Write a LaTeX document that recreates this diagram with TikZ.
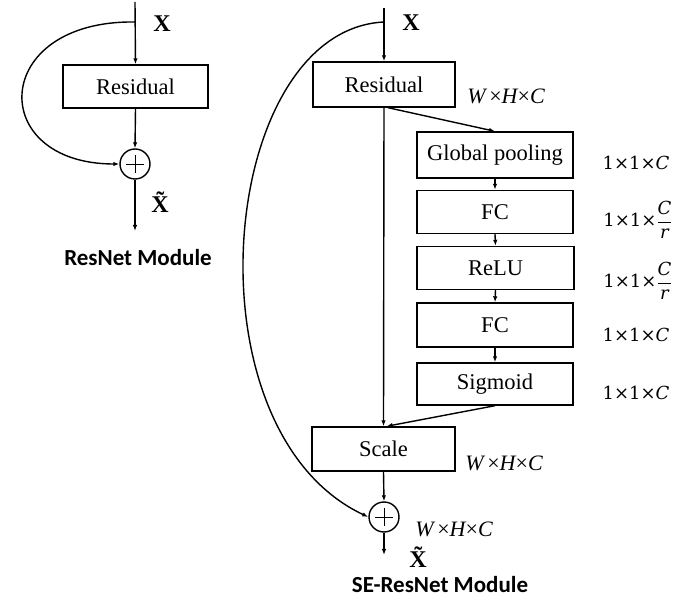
\documentclass[tikz,border=0pt]{standalone}
\usepackage{fontspec}
\setmainfont{Liberation Serif}
\newfontfamily\labfont{DejaVu Serif}
\newfontfamily\capfont{Carlito}
\usetikzlibrary{arrows.meta}
\begin{document}
\begin{tikzpicture}[x=1pt,y=-1pt,line width=1.4pt,
  >={Latex[length=6pt,width=4.5pt]},
  box/.style={draw,line width=1.4pt,inner sep=0pt,font=\fontsize{22.5}{26}\selectfont},
  addc/.style={draw,circle,line width=1.4pt,minimum size=30pt,inner sep=0pt},
  xlab/.style={font=\fontsize{24}{28}\selectfont\bfseries},
  dimlab/.style={font=\fontsize{22}{26}\selectfont\itshape},
  sizelab/.style={font=\labfont\fontsize{18}{22}\selectfont},
  modlab/.style={font=\capfont\fontsize{23}{27}\selectfont\bfseries}]
\useasboundingbox (0,0) rectangle (681,601);
% ---------- ResNet module ----------
\node[box,minimum width=145pt,minimum height=43pt] (res1) at (135.5,86.5) {Residual};
\node[addc] (add1) at (135,164) {};
\draw[line width=0.7pt] (add1.center) +(-9,0) -- +(9,0);
\draw[line width=0.7pt] (add1.center) +(0,-9) -- +(0,9);
\coordinate (lt) at (135,2);
\coordinate (lc) at (135,22);
\coordinate (lend) at (135,231);
\draw[->] (lt) -- (res1.north);
\draw[->] (res1.south) -- (add1.north);
\draw[->] (add1.south) -- (lend);
\draw[->] (lc) .. controls (-10,20) and (-14,164) .. (add1.west);
\node[xlab] (x1) at (162,24) {X};
\node[xlab] (xt1) at (160,202) {\~{X}};
\node[modlab] (m1) at (138,258) {ResNet Module};
% ---------- SE-ResNet module ----------
\node[box,minimum width=142pt,minimum height=45pt] (res2) at (384,84.5) {Residual};
\node[box,minimum width=156pt,minimum height=46pt] (gp) at (495,155) {Global pooling};
\node[box,minimum width=156pt,minimum height=43pt] (fc1) at (495,212) {FC};
\node[box,minimum width=157pt,minimum height=43pt] (relu) at (495.5,268) {ReLU};
\node[box,minimum width=156pt,minimum height=44pt] (fc2) at (495,325) {FC};
\node[box,minimum width=156pt,minimum height=42pt] (sig) at (495,384) {Sigmoid};
\node[box,minimum width=143pt,minimum height=44pt] (scale) at (383.5,449) {Scale};
\node[addc] (add2) at (384,517) {};
\draw[line width=0.7pt] (add2.center) +(-9,0) -- +(9,0);
\draw[line width=0.7pt] (add2.center) +(0,-9) -- +(0,9);
\coordinate (rt) at (384,8);
\coordinate (rc) at (384,22);
\coordinate (rend) at (384,555);
\draw[->] (rt) -- (res2.north);
\draw[->] (res2.south) -- (scale.north);
\draw[->] ([xshift=4pt]res2.south) -- (gp.north);
\draw[->] (gp.south) -- (fc1.north);
\draw[->] (fc1.south) -- (relu.north);
\draw[->] (relu.south) -- (fc2.north);
\draw[->] (fc2.south) -- (sig.north);
\draw[->] (sig.south) -- ([xshift=3pt]scale.north);
\draw[->] (scale.south) -- (add2.north);
\draw[->] (add2.south) -- (rend);
\draw[->] (rc) .. controls (218,30) and (183,430) .. (add2.west);
\node[xlab] (x2) at (411,23) {X};
\node[xlab] (xt2) at (418,557) {\~{X}};
\node[dimlab] (d1) at (506,96) {W\,\upshape×\itshape H\upshape×\itshape C};
\node[dimlab] (d2) at (504,463) {W\,\upshape×\itshape H\upshape×\itshape C};
\node[dimlab] (d3) at (454,529) {W\,\upshape×\itshape H\upshape×\itshape C};
\node[sizelab] (s1) at (636,163) {1×1×\textit{C}};
\node[sizelab] (s2) at (638,220) {1×1×$\displaystyle\frac{\mbox{\itshape C}}{\mbox{\itshape r}}$};
\node[sizelab] (s3) at (638,281) {1×1×$\displaystyle\frac{\mbox{\itshape C}}{\mbox{\itshape r}}$};
\node[sizelab] (s4) at (636,335) {1×1×\textit{C}};
\node[sizelab] (s5) at (636,393) {1×1×\textit{C}};
\node[modlab] (m2) at (440,585) {SE-ResNet Module};
\end{tikzpicture}
\end{document}
